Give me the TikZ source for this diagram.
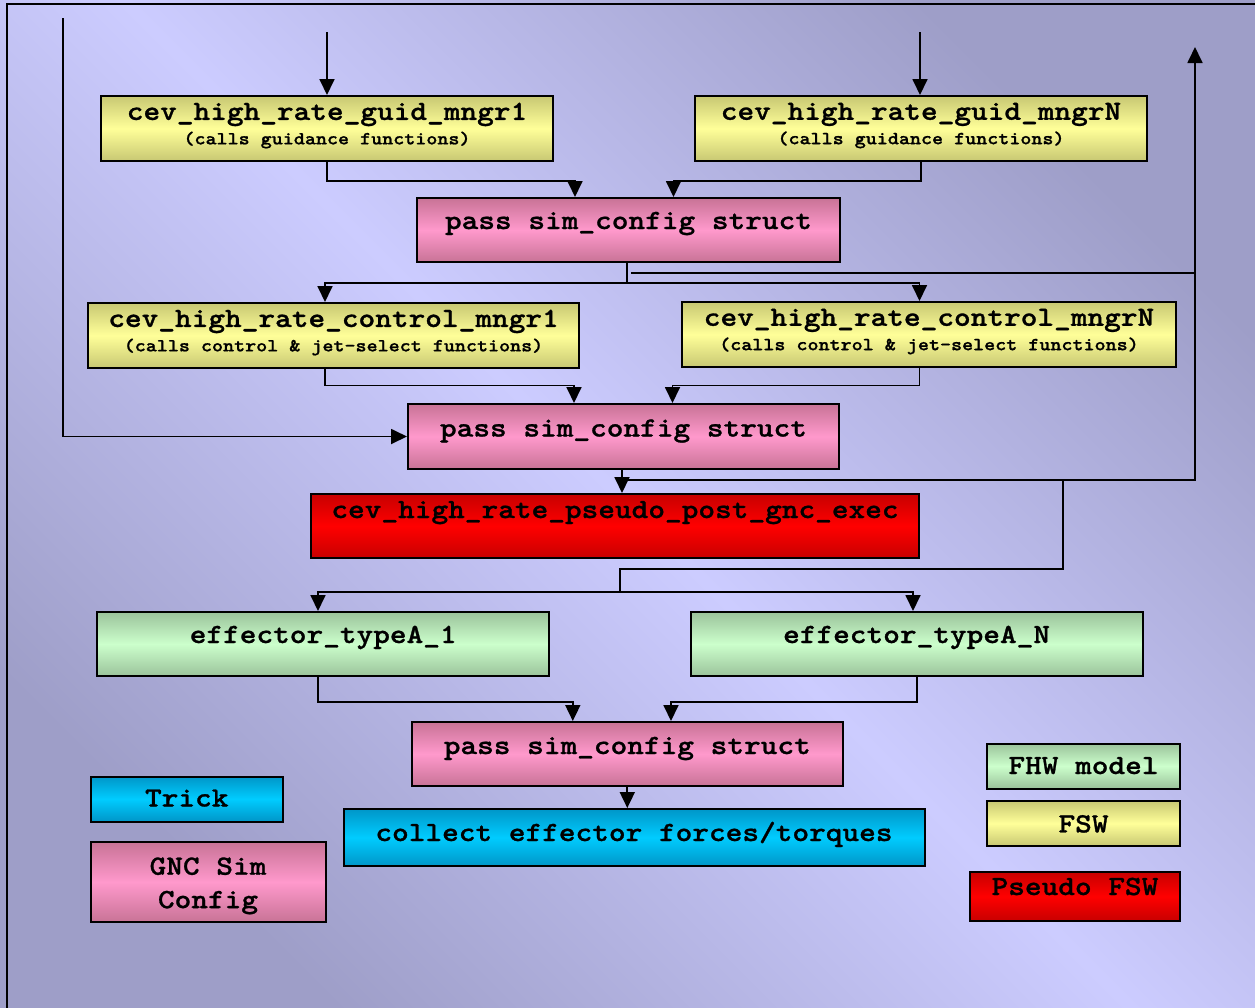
\documentclass[tikz,border=0pt]{standalone}
\usepackage{fontspec}
\newfontfamily\courbf{lmmonolt10-bold.otf}[FakeStretch=1.143, FakeBold=1]
\usetikzlibrary{arrows.meta,calc}
\definecolor{bgLight}{RGB}{204,204,255}
\definecolor{bgDark}{RGB}{158,158,200}
\definecolor{fswLight}{RGB}{255,255,153}
\definecolor{fswDark}{RGB}{200,200,115}
\definecolor{cfgLight}{RGB}{255,153,204}
\definecolor{cfgDark}{RGB}{200,115,150}
\definecolor{psLight}{RGB}{255,0,0}
\definecolor{psDark}{RGB}{200,0,0}
\definecolor{fhwLight}{RGB}{204,255,204}
\definecolor{fhwDark}{RGB}{155,195,155}
\definecolor{trkLight}{RGB}{0,204,255}
\definecolor{trkDark}{RGB}{0,150,200}
\newcommand\boxfont{\courbf\fontsize{13.9}{12.2}\selectfont}
\newcommand\subfont{\courbf\fontsize{9.2}{11}\selectfont}
\newcommand\lowpad{\rule[-5pt]{0pt}{5pt}}

\begin{document}
\begin{tikzpicture}[x=50pt,y=-50pt,
    bx/.style={draw=black, line width=1pt, inner sep=0pt, font=\boxfont, align=center},
    one/.style={text height=9pt, text depth=#1},
    one/.default=3pt,
    fsw/.style={bx, top color=fswDark, bottom color=fswDark, middle color=fswLight},
    cfg/.style={bx, top color=cfgDark, bottom color=cfgDark, middle color=cfgLight},
    pseudo/.style={bx, top color=psDark, bottom color=psDark, middle color=psLight},
    fhw/.style={bx, top color=fhwDark, bottom color=fhwDark, middle color=fhwLight},
    trk/.style={bx, top color=trkDark, bottom color=trkDark, middle color=trkLight},
    ln/.style={line width=0.9pt},
    arr/.style={ln, -{Triangle[length=8pt,width=7.5pt]}}
  ]
  % background and frame
  \useasboundingbox (0,0) rectangle (12.55,10.08);
  \shade[top color=bgDark, bottom color=bgDark, middle color=bgLight, shading angle=-45]
    (0,0) rectangle (12.55,10.08);
  \draw[line width=1pt] (0.07,0.04) rectangle (12.75,10.3);

  % guidance managers
  \node[fsw, minimum width=226pt, minimum height=32.5pt] (guidA) at (3.27,1.285)
    {cev\_high\_rate\_guid\_mngr1\\{\subfont (calls guidance functions)\lowpad}};
  \node[fsw, minimum width=226pt, minimum height=32.5pt] (guidN) at (9.21,1.285)
    {cev\_high\_rate\_guid\_mngrN\\{\subfont (calls guidance functions)\lowpad}};
  \node[cfg, one=10pt, minimum width=211.5pt, minimum height=32pt] (passA) at (6.285,2.30)
    {pass sim\_config struct};

  % control managers
  \node[fsw, minimum width=245.5pt, minimum height=32.5pt] (ctrlA) at (3.335,3.355)
    {cev\_high\_rate\_control\_mngr1\\{\subfont (calls control \& jet-select functions)\lowpad}};
  \node[fsw, minimum width=247pt, minimum height=32.5pt] (ctrlN) at (9.29,3.345)
    {cev\_high\_rate\_control\_mngrN\\{\subfont (calls control \& jet-select functions)\lowpad}};
  \node[cfg, one=9pt, minimum width=215.5pt, minimum height=32.5pt] (passB) at (6.235,4.365)
    {pass sim\_config struct};
  \node[pseudo, one=17pt, minimum width=304pt, minimum height=32pt] (post) at (6.15,5.26)
    {cev\_high\_rate\_pseudo\_post\_gnc\_exec};

  % effectors
  \node[fhw, one=10pt, minimum width=226pt, minimum height=32pt] (effA) at (3.232,6.44)
    {effector\_typeA\_1};
  \node[fhw, one=10pt, minimum width=226pt, minimum height=32pt] (effN) at (9.166,6.44)
    {effector\_typeA\_N};
  \node[cfg, one=9pt, minimum width=215.5pt, minimum height=32pt] (passC) at (6.273,7.54)
    {pass sim\_config struct};
  \node[trk, one=5.5pt, minimum width=290.5pt, minimum height=28.5pt] (collect) at (6.34,8.375)
    {collect effector forces/torques};

  % legend
  \node[trk, one=1.5pt, minimum width=96pt, minimum height=22.5pt] (keyTrick) at (1.868,7.99) {Trick};
  \node[cfg, minimum width=117.5pt, minimum height=40pt] (keyCfg) at (2.08,8.82)
    {\rule{0pt}{12.5pt}GNC Sim\\[4.5pt]Config};
  \node[fhw, one=1pt, minimum width=96.5pt, minimum height=22.5pt] (keyFhw) at (10.835,7.66) {FHW model};
  \node[fsw, one=0pt, minimum width=96.5pt, minimum height=22.5pt] (keyFsw) at (10.835,8.234) {FSW};
  \node[pseudo, one=10.5pt, minimum width=105pt, minimum height=24.5pt] (keyPs) at (10.75,8.965) {Pseudo FSW};

  % free ends and columns
  \coordinate (inL) at (0.63,0.18);
  \coordinate (inA) at (3.27,0.32);
  \coordinate (inN) at (9.20,0.32);
  \coordinate (fbOut) at (11.95,0.47);
  \coordinate (fbA) at (6.31,2.73);
  \coordinate (tapA) at (6.27,2.83);
  \coordinate (tapB) at (6.22,4.80);
  \coordinate (spl) at (10.63,4.80);
  \coordinate (effSplit) at (6.20,5.92);
  \coordinate (colC1) at (3.25,0);
  \coordinate (colCN) at (9.195,0);
  \coordinate (colE1) at (3.18,0);
  \coordinate (colEN) at (9.13,0);

  % guidance in
  \draw[arr] (inA) -- (guidA);
  \draw[arr] (inN) -- (inN |- guidN.north);
  \draw[arr] (guidA.south) -- ++(0,0.19) -| ($(passA.north)+(-0.535,0)$);
  \draw[arr] (guidN.south) -- ++(0,0.19) -| ($(passA.north)+(0.45,0)$);

  % to control
  \draw[ln] (tapA |- passA.south) -- (tapA);
  \draw[arr] (tapA) -| (colC1 |- ctrlA.north);
  \draw[arr] (tapA) -| (colCN |- ctrlN.north);
  \draw[ln] (fbA) -- (fbA -| fbOut);
  \draw[arr] (colC1 |- ctrlA.south) -- ++(0,0.165) -| ($(passB.north)+(-0.495,0)$);
  \draw[arr] (colCN |- ctrlN.south) -- ++(0,0.175) -| ($(passB.north)+(0.49,0)$);
  \draw[arr] (inL) |- (passB.west);

  % post gnc and feedback
  \draw[arr] (tapB |- passB.south) -- (tapB |- post.north);
  \draw[arr] (tapB) -| (fbOut);
  \draw[ln] (spl) |- (effSplit |- 0,5.69) -- (effSplit);
  \draw[arr] (effSplit) -| (colE1 |- effA.north);
  \draw[arr] (effSplit) -| (colEN |- effN.north);

  % effectors to collect
  \draw[arr] (colE1 |- effA.south) -- ++(0,0.25) -| ($(passC.north)+(-0.545,0)$);
  \draw[arr] (effN.south) -- ++(0,0.25) -| ($(passC.north)+(0.437,0)$);
  \draw[arr] (passC.south) -- (passC.south |- collect.north);
\end{tikzpicture}
\end{document}
